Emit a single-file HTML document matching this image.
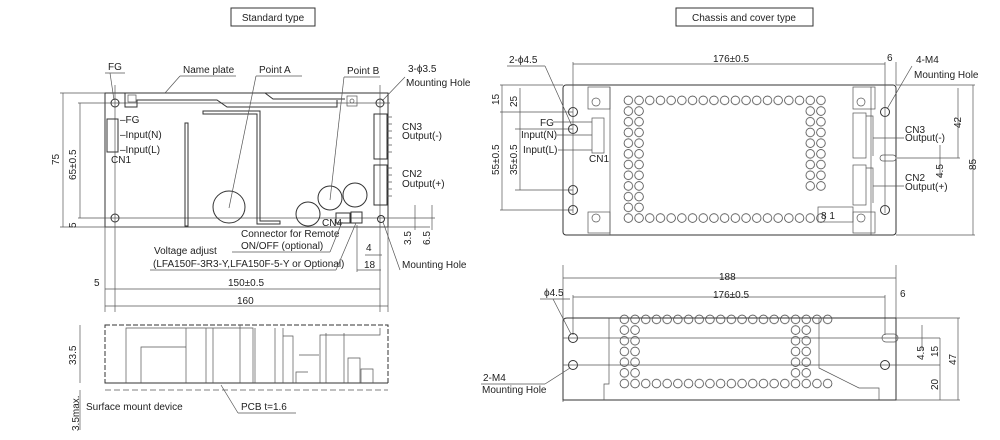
<!DOCTYPE html>
<html><head><meta charset="utf-8"><style>
body{margin:0;background:#fff;}
svg{display:block}
text{font-family:"Liberation Sans",sans-serif;font-size:10px;fill:#222}
.l{stroke:#333;stroke-width:1;fill:none}
.t{stroke:#555;stroke-width:.7;fill:none}
</style></head><body>
<svg width="1000" height="440" viewBox="0 0 1000 440">
<defs>
<pattern id="vh" x="623" y="95" width="10.7" height="10.7" patternUnits="userSpaceOnUse"><circle cx="5.35" cy="5.35" r="4.3" fill="none" stroke="#444" stroke-width=".8"/></pattern>
<pattern id="vh2" x="619" y="314" width="10.7" height="10.7" patternUnits="userSpaceOnUse"><circle cx="5.35" cy="5.35" r="4.3" fill="none" stroke="#444" stroke-width=".8"/></pattern>
</defs>
<!-- titles -->
<rect x="231" y="8" width="84" height="18" class="l" stroke-width="1.2"/><text x="273" y="21" text-anchor="middle" font-size="11">Standard type</text>
<rect x="676" y="8" width="137" height="18" class="l" stroke-width="1.2"/><text x="744" y="21" text-anchor="middle" font-size="11">Chassis and cover type</text>

<!-- ===== Standard top ===== -->
<rect x="105" y="93" width="283" height="134" class="l"/>
<line x1="60" y1="93" x2="105" y2="93" class="t"/><line x1="60" y1="227" x2="430" y2="227" class="t"/>
<line x1="78" y1="103" x2="390" y2="103" class="t"/><line x1="78" y1="218" x2="435" y2="218" class="t"/>
<line x1="115" y1="85" x2="115" y2="312" class="t"/><line x1="380" y1="85" x2="380" y2="312" class="t"/>
<line x1="105" y1="227" x2="105" y2="312" class="t"/><line x1="388" y1="227" x2="388" y2="312" class="t"/>
<circle cx="115" cy="103" r="4" class="l"/><circle cx="380" cy="103" r="4" class="l"/><circle cx="115" cy="218" r="4" class="l"/><circle cx="381" cy="219" r="3.5" class="l"/>
<path d="M125 93 v14 h12 v-7 h80 l10 7 h110 v-7 M125 93 H265 l8 6 H345" class="l"/>
<rect x="128" y="95" width="8" height="7" class="t"/><rect x="347" y="96" width="10" height="10" class="t"/><circle cx="352" cy="101" r="2" class="t"/>
<path d="M203 111 h57 v110 h20 v3 h-23 v-110 h-54 z" class="l"/>
<rect x="185" y="123" width="3" height="103" class="l"/>
<circle cx="229" cy="207" r="16" class="l"/><circle cx="308" cy="214" r="12" class="l"/><circle cx="330" cy="198" r="12" class="l"/><circle cx="355" cy="195" r="12" class="l"/>
<rect x="107" y="119" width="11" height="33" class="l"/><text x="120" y="123" font-size="9">–FG</text><text x="120" y="138" font-size="9">–Input(N)</text><text x="120" y="153" font-size="9">–Input(L)</text><text x="111" y="163" font-size="9">CN1</text>
<rect x="374" y="114" width="13" height="45" class="l"/><rect x="374" y="165" width="13" height="40" class="l"/>
<path d="M387 117 h5 M387 124 h5 M387 131 h5 M387 138 h5 M387 145 h5 M387 152 h5 M387 168 h5 M387 175 h5 M387 182 h5 M387 189 h5 M387 196 h5" class="t"/>
<text x="402" y="130" font-size="9">CN3</text><text x="402" y="139" font-size="9">Output(-)</text>
<text x="402" y="177" font-size="9">CN2</text><text x="402" y="187" font-size="9">Output(+)</text>
<rect x="336" y="213" width="14" height="10" class="l"/><rect x="351" y="212" width="11" height="11" class="l"/><text x="322" y="226" font-size="8">CN4</text>
<text x="108" y="70">FG</text><line x1="105" y1="73" x2="125" y2="73" class="t"/><line x1="110" y1="73" x2="114" y2="100" class="t"/>
<text x="183" y="73">Name plate</text><line x1="180" y1="76" x2="236" y2="76" class="t"/><line x1="180" y1="76" x2="165" y2="93" class="t"/>
<text x="259" y="73">Point A</text><line x1="256" y1="76" x2="302" y2="76" class="t"/><line x1="256" y1="76" x2="229" y2="208" class="t"/>
<text x="347" y="74">Point B</text><line x1="344" y1="77" x2="380" y2="77" class="t"/><line x1="344" y1="77" x2="330" y2="200" class="t"/>
<text x="408" y="72">3-ϕ3.5</text><text x="406" y="86" font-size="9.5">Mounting Hole</text><line x1="405" y1="77" x2="382" y2="101" class="t"/>
<text x="241" y="237" font-size="10">Connector for Remote</text><text x="241" y="249" font-size="10">ON/OFF (optional)</text><line x1="232" y1="252" x2="330" y2="252" class="t"/><line x1="330" y1="252" x2="342" y2="222" class="t"/>
<text x="154" y="254">Voltage adjust</text><text x="153" y="267" font-size="9.5">(LFA150F-3R3-Y,LFA150F-5-Y or Optional)</text><line x1="150" y1="270" x2="336" y2="270" class="t"/><line x1="336" y1="270" x2="356" y2="223" class="t"/>
<text x="402" y="268">Mounting Hole</text><line x1="400" y1="270" x2="383" y2="222" class="t"/>
<!-- dims -->
<line x1="63" y1="93" x2="63" y2="227" class="t"/><text x="59" y="165" transform="rotate(-90 59 165)">75</text>
<line x1="80" y1="103" x2="80" y2="218" class="t"/><text x="76" y="180" transform="rotate(-90 76 180)" font-size="9">65±0.5</text>
<text x="76" y="228" transform="rotate(-90 76 228)" font-size="9">5</text>
<line x1="105" y1="289" x2="380" y2="289" class="t"/><text x="94" y="286">5</text><text x="228" y="286">150±0.5</text>
<line x1="105" y1="306" x2="388" y2="306" class="t"/><text x="237" y="304">160</text>
<line x1="365" y1="255" x2="382" y2="255" class="t"/><text x="366" y="251">4</text>
<line x1="357" y1="270" x2="381" y2="270" class="t"/><text x="364" y="268">18</text><line x1="357" y1="225" x2="357" y2="272" class="t"/>
<line x1="415" y1="205" x2="415" y2="230" class="t"/><text x="411" y="245" transform="rotate(-90 411 245)">3.5</text>
<line x1="432" y1="205" x2="432" y2="230" class="t"/><text x="430" y="245" transform="rotate(-90 430 245)">6.5</text>

<!-- ===== Standard side ===== -->
<rect x="105" y="325" width="283" height="58" class="l" stroke-dasharray="5,2"/>
<line x1="105" y1="383" x2="388" y2="383" class="l"/>
<path d="M126 383 v-55 h60 v55 M141 383 v-36 h45 M186 328 h67 v55 M206 328 v55 M213 328 v55 M240 325 v58 M255 328 v55 M275 328 v55 M283 336 h10 v47 M283 328 v55 M320 383 v-48 h60 v-7 M299 355 h20 M348 383 v-25 h12 v25 M361 383 v-14 h12 v14 M296 383 v-11 h12 M326 383 v-50 M344 383 v-50" class="t"/>
<line x1="105" y1="390" x2="388" y2="390" class="t" stroke-dasharray="6,3"/>
<line x1="80" y1="325" x2="80" y2="383" class="t"/><text x="76" y="365" transform="rotate(-90 76 365)">33.5</text>
<line x1="80" y1="390" x2="80" y2="430" class="t"/><text x="79" y="431" transform="rotate(-90 79 431)" font-size="9.5">3.5max.</text>
<text x="86" y="410">Surface mount device</text>
<text x="241" y="410">PCB  t=1.6</text><line x1="238" y1="413" x2="296" y2="413" class="t"/><line x1="238" y1="413" x2="221" y2="385" class="t"/>

<!-- ===== Chassis top ===== -->
<rect x="563" y="85" width="333" height="150" rx="3" class="l"/>
<rect x="588" y="87" width="22" height="22" class="t"/><circle cx="596" cy="102" r="4" class="t"/>
<rect x="588" y="212" width="22" height="21" class="t"/><circle cx="596" cy="218" r="4" class="t"/>
<rect x="853" y="87" width="22" height="22" class="t"/><circle cx="861" cy="102" r="4" class="t"/>
<rect x="853" y="212" width="22" height="21" class="t"/><circle cx="861" cy="218" r="4" class="t"/>
<line x1="610" y1="87" x2="610" y2="235" class="t"/><line x1="871" y1="87" x2="871" y2="235" class="t"/>
<rect x="623" y="95" width="203.3" height="10.7" fill="url(#vh)"/>
<rect x="623" y="212.7" width="203.3" height="10.7" fill="url(#vh)"/>
<rect x="623" y="105.7" width="21.4" height="107" fill="url(#vh)"/>
<rect x="804.9" y="105.7" width="21.4" height="85.6" fill="url(#vh)"/>
<circle cx="573" cy="112" r="4.5" class="l"/><circle cx="573" cy="129" r="4.5" class="l"/><circle cx="573" cy="190" r="4.5" class="l"/><circle cx="573" cy="210" r="4.5" class="l"/>
<circle cx="885" cy="112" r="4.5" class="l"/><circle cx="885" cy="210" r="4.5" class="l"/>
<rect x="592" y="118" width="12" height="35" class="t"/><text x="589" y="162" font-size="9">CN1</text>
<rect x="853" y="113" width="13" height="45" class="t"/><rect x="853" y="165" width="13" height="40" class="t"/>
<path d="M866 116 h7 v40 M866 168 h7 v35" class="t"/>
<rect x="818" y="207" width="35" height="15" class="t"/><text x="821" y="219" font-size="8">8 1</text>
<rect x="880" y="155" width="16" height="6" rx="3" class="t"/>
<text x="540" y="126">FG</text><line x1="553" y1="122" x2="592" y2="122" class="t"/>
<text x="521" y="138">Input(N)</text><line x1="557" y1="135" x2="592" y2="135" class="t"/>
<text x="523" y="153">Input(L)</text><line x1="558" y1="150" x2="592" y2="150" class="t"/>
<text x="905" y="133" font-size="9">CN3</text><text x="905" y="141" font-size="9">Output(-)</text><line x1="873" y1="138" x2="904" y2="138" class="t"/>
<text x="905" y="181" font-size="9">CN2</text><text x="905" y="190" font-size="9">Output(+)</text><line x1="873" y1="186" x2="904" y2="186" class="t"/>
<text x="509" y="63">2-ϕ4.5</text><line x1="507" y1="66" x2="545" y2="66" class="t"/><line x1="545" y1="66" x2="572" y2="126" class="t"/>
<text x="916" y="63">4-M4</text><text x="914" y="78" font-size="9.5">Mounting Hole</text><line x1="912" y1="66" x2="887" y2="109" class="t"/>
<line x1="573" y1="62" x2="573" y2="213" class="t"/><line x1="885" y1="62" x2="885" y2="213" class="t"/><line x1="896" y1="62" x2="896" y2="85" class="t"/>
<line x1="573" y1="64" x2="885" y2="64" class="t"/><text x="713" y="62">176±0.5</text><text x="887" y="61">6</text>
<line x1="500" y1="85" x2="563" y2="85" class="t"/><line x1="500" y1="112" x2="573" y2="112" class="t"/><line x1="515" y1="129" x2="573" y2="129" class="t"/><line x1="515" y1="190" x2="573" y2="190" class="t"/><line x1="500" y1="210" x2="573" y2="210" class="t"/>
<line x1="502" y1="85" x2="502" y2="210" class="t"/><text x="499" y="105" transform="rotate(-90 499 105)">15</text><text x="499" y="175" transform="rotate(-90 499 175)" font-size="9">55±0.5</text>
<line x1="520" y1="88" x2="520" y2="190" class="t"/><text x="517" y="107" transform="rotate(-90 517 107)">25</text><text x="517" y="175" transform="rotate(-90 517 175)" font-size="9">35±0.5</text>
<line x1="896" y1="85" x2="975" y2="85" class="t"/><line x1="896" y1="235" x2="975" y2="235" class="t"/><line x1="897" y1="158" x2="960" y2="158" class="t"/>
<line x1="958" y1="88" x2="958" y2="158" class="t"/><text x="961" y="128" transform="rotate(-90 961 128)">42</text>
<line x1="973" y1="85" x2="973" y2="235" class="t"/><text x="976" y="170" transform="rotate(-90 976 170)">85</text>
<line x1="940" y1="145" x2="940" y2="178" class="t"/><text x="943" y="178" transform="rotate(-90 943 178)">4.5</text>

<!-- ===== Chassis side ===== -->
<line x1="563" y1="265" x2="563" y2="402" class="t"/><line x1="896" y1="265" x2="896" y2="318" class="t"/>
<line x1="563" y1="278" x2="896" y2="278" class="t"/><text x="719" y="280">188</text>
<line x1="573" y1="295" x2="573" y2="335" class="t"/><line x1="885" y1="295" x2="885" y2="335" class="t"/>
<line x1="573" y1="297" x2="885" y2="297" class="t"/><text x="713" y="298">176±0.5</text><text x="900" y="297">6</text>
<path d="M563 400 V322 q0-4 4-4 H896 V400 Z" class="l"/>
<path d="M609 318 v66 h-5 v16 M819 318 v50 l40 20 h20 v12" class="t"/>
<rect x="619" y="314" width="214" height="10.7" fill="url(#vh2)"/>
<rect x="619" y="324.7" width="21.4" height="53.5" fill="url(#vh2)"/>
<rect x="790.2" y="324.7" width="21.4" height="53.5" fill="url(#vh2)"/>
<rect x="619" y="378.2" width="214" height="10.7" fill="url(#vh2)"/>
<circle cx="573" cy="338" r="4.5" class="l"/><circle cx="573" cy="365" r="4.5" class="l"/><circle cx="885" cy="365" r="4.5" class="l"/>
<rect x="882" y="334" width="16" height="8" rx="4" class="t"/>
<line x1="563" y1="338" x2="940" y2="338" class="t"/><line x1="563" y1="365" x2="940" y2="365" class="t"/><line x1="896" y1="318" x2="960" y2="318" class="t"/><line x1="896" y1="400" x2="960" y2="400" class="t"/>
<text x="544" y="296">ϕ4.5</text><line x1="540" y1="299" x2="570" y2="299" class="t"/><line x1="553" y1="299" x2="571" y2="334" class="t"/>
<text x="483" y="381">2-M4</text><text x="482" y="393" font-size="9.5">Mounting Hole</text><line x1="481" y1="384" x2="545" y2="384" class="t"/><line x1="545" y1="384" x2="570" y2="368" class="t"/>
<line x1="922" y1="325" x2="922" y2="350" class="t"/><text x="924" y="360" transform="rotate(-90 924 360)">4.5</text>
<line x1="940" y1="338" x2="940" y2="400" class="t"/><text x="938" y="357" transform="rotate(-90 938 357)">15</text><text x="938" y="390" transform="rotate(-90 938 390)">20</text>
<line x1="958" y1="318" x2="958" y2="400" class="t"/><text x="956" y="365" transform="rotate(-90 956 365)">47</text>
</svg>
</body></html>
